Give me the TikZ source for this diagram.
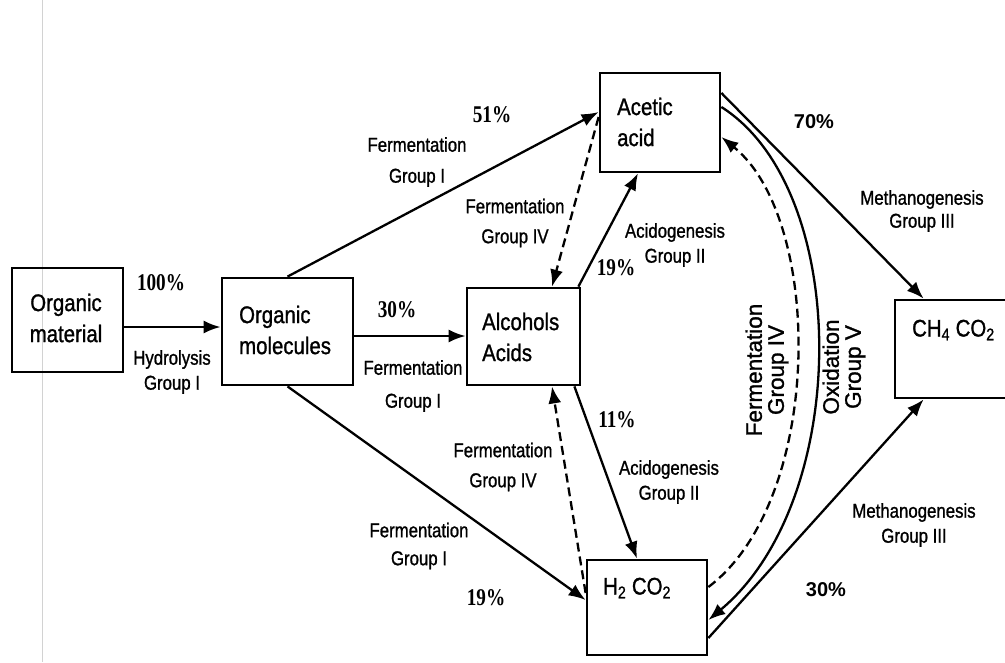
\documentclass[tikz,border=0pt]{standalone}
\usepackage{fontspec}
\setmainfont{Liberation Sans}[FakeBold=1.2]
\newfontfamily\pctserif{Liberation Serif}
\newfontfamily\pctsans{Liberation Sans}
\usetikzlibrary{arrows.meta}
\begin{document}
\begin{tikzpicture}[x=1pt,y=-1pt,
  box/.style={draw, line width=2.8pt, inner sep=0pt},
  btxt/.style={font=\fontsize{24}{31}\selectfont, align=left, inner sep=0pt, anchor=west, xscale=0.85},
  lbl/.style={font=\fontsize{20}{#1}\selectfont, align=center, inner sep=0pt, xscale=0.84},
  lbl/.default=27,
  vlbl/.style={font=\fontsize{22.5}{22}\selectfont, align=center, inner sep=0pt, rotate=90},
  pct/.style={font=\pctserif\bfseries\fontsize{24}{26}\selectfont, inner sep=0pt, xscale=0.8},
  pcts/.style={font=\pctsans\bfseries\fontsize{20}{22}\selectfont, inner sep=0pt},
  arr/.style={line width=2.3pt, -{Latex[length=17pt,width=13pt]}},
  dsh/.style={arr, dash pattern=on 9pt off 5pt},
]
\useasboundingbox (0,0) rectangle (1005,662);
\clip (0,0) rectangle (1005,662);
\fill[white] (0,0) rectangle (1005,662);
% scan artefact line
\draw[gray!35, line width=0.8pt] (42,0) -- (42,662);

% boxes
\node[box, minimum width=111pt, minimum height=104pt] (omat) at (67.5,320) {};
\node[box, minimum width=131pt, minimum height=107pt] (omol) at (287.5,331.5) {};
\node[box, minimum width=113pt, minimum height=97pt] (alc) at (523.5,336.5) {};
\node[box, minimum width=120pt, minimum height=99pt] (ace) at (660,122.5) {};
\node[box, minimum width=120pt, minimum height=95pt] (h2) at (647,607.5) {};
\node[box, minimum width=120pt, minimum height=98pt] (ch4) at (955,349) {};

% box texts
\node[btxt, anchor=center, align=center] (omatT) at (66,318) {Organic\\material};
\node[btxt] (omolT) at (239,330) {Organic\\molecules};
\node[btxt] (alcT) at (482,337) {Alcohols\\Acids};
\node[btxt] (aceT) at (617,122) {Acetic\\acid};
\node[btxt] (h2T) at (603,588) {H\textsubscript{2} CO\textsubscript{2}};
\node[btxt] (ch4T) at (912,330) {CH\textsubscript{4} CO\textsubscript{2}};

% connectors
\draw[arr] (omat.east |- 0,327) -- (omol.west |- 0,327);
\draw[arr] (omol.east |- 0,336) -- (alc.west |- 0,336);
\draw[arr] (omol.north) -- (ace.west |- 0,112);
\draw[arr] (omol.south) -- (h2.west |- 0,600);
\draw[arr] ([xshift=-3pt]alc.north east) -- ([xshift=-22pt]ace.south);
\draw[dsh] (ace.west |- 0,117) -- ([xshift=28.5pt]alc.north);
\draw[arr] ([xshift=-7pt]alc.south east) -- ([xshift=-10pt]h2.north);
\draw[dsh] (h2.west |- 0,593) -- ([xshift=28.5pt]alc.south);
\draw[arr] (ace.east |- 0,93) -- ([xshift=30pt]ch4.north west);
\draw[arr] (h2.east |- 0,638) -- ([xshift=30pt]ch4.south west);
\draw[arr] (ace.east |- 0,107) .. controls (852,190) and (852,500) .. (h2.east |- 0,620);
\draw[dsh] (h2.east |- 0,587) .. controls (824,500) and (824,220) .. (ace.east |- 0,137);

% labels
\node[lbl=25] (l1) at (172,372) {Hydrolysis\\Group I};
\node[lbl=31] (l2) at (417,162) {Fermentation\\Group I};
\node[lbl=30] (l3) at (515,223) {Fermentation\\Group IV};
\node[lbl=25] (l4) at (675,245) {Acidogenesis\\Group II};
\node[lbl=33] (l5) at (413,386) {Fermentation\\Group I};
\node[lbl=30] (l6) at (503,467) {Fermentation\\Group IV};
\node[lbl=25] (l7) at (669,482) {Acidogenesis\\Group II};
\node[lbl=28] (l8) at (419,546) {Fermentation\\Group I};
\node[lbl=23] (l9) at (922,211) {Methanogenesis\\Group III};
\node[lbl=25] (l10) at (914,525) {Methanogenesis\\Group III};
\node[vlbl] (l11) at (767,370) {Fermentation\\Group IV};
\node[vlbl] (l12) at (844,367) {Oxidation\\Group V};

% percentages
\node[pct] (p1) at (161,283) {100\%};
\node[pct] (p2) at (492,115) {51\%};
\node[pct] (p3) at (616,268) {19\%};
\node[pct] (p4) at (397,310) {30\%};
\node[pct] (p5) at (617,420) {11\%};
\node[pct] (p6) at (486,598) {19\%};
\node[pcts] (p7) at (814,122) {70\%};
\node[pcts] (p8) at (826,590) {30\%};
\end{tikzpicture}
\end{document}
